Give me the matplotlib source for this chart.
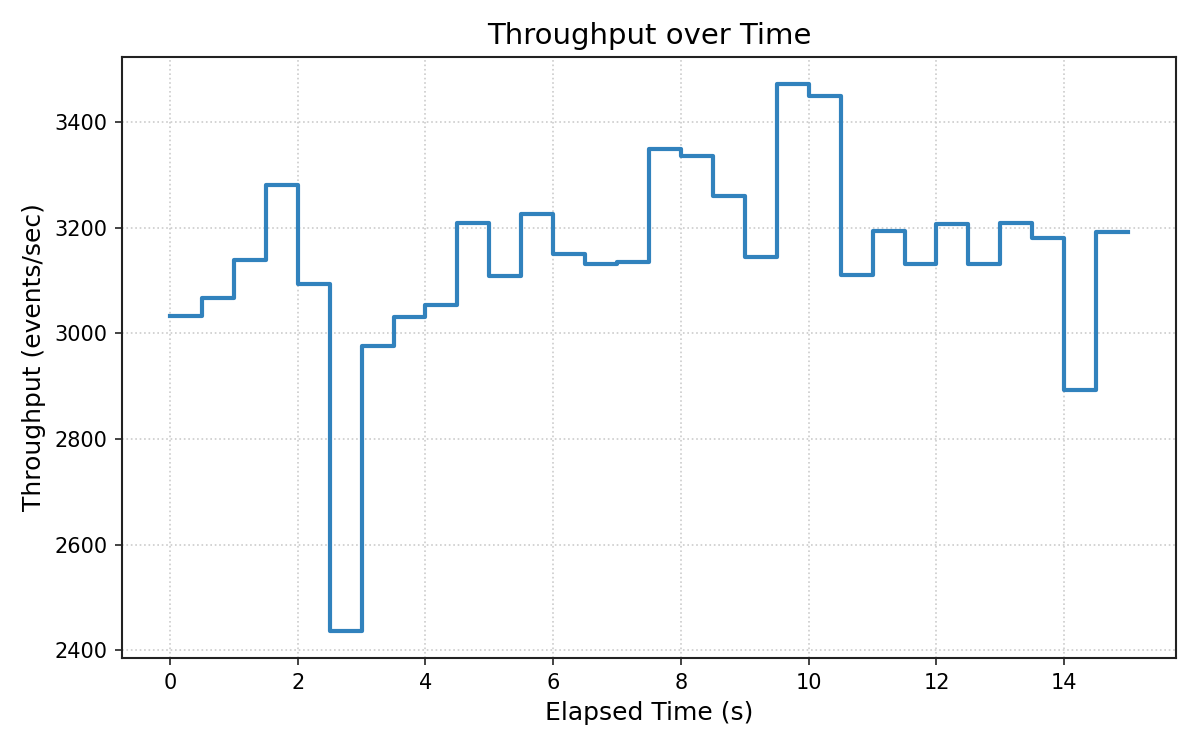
import matplotlib
matplotlib.use("Agg")
import matplotlib.pyplot as plt
import numpy as np

elapsed = [0.0, 0.5, 1.0, 1.5, 2.0, 2.5, 3.0, 3.5, 4.0, 4.5, 5.0, 5.5, 6.0, 6.5, 7.0,
           7.5, 8.0, 8.5, 9.0, 9.5, 10.0, 10.5, 11.0, 11.5, 12.0, 12.5, 13.0, 13.5,
           14.0, 14.5, 15.0]
throughput = [3034, 3068, 3140, 3282, 3094, 2437, 2977, 3032, 3053, 3210, 3108, 3227,
              3151, 3131, 3136, 3350, 3337, 3261, 3144, 3472, 3450, 3110, 3195, 3132,
              3208, 3131, 3210, 3180, 2892, 3193, 3193]

fig, ax = plt.subplots(figsize=(8, 5), dpi=150)
fig.subplots_adjust(left=0.1017, right=0.98, top=0.924, bottom=0.1227)
ax.step(elapsed, throughput, where="post", color="#3182bd", linewidth=2)
ax.grid(True, linestyle=":", color="#cccccc", linewidth=0.8)
ax.set_axisbelow(True)
for s in ax.spines.values():
    s.set_color("#222222")
    s.set_linewidth(1.0)
ax.tick_params(colors="#222222", labelcolor="black", labelsize=10)
ax.set_title("Throughput over Time", fontsize=14)
ax.set_xlabel("Elapsed Time (s)", fontsize=12)
ax.set_ylabel("Throughput (events/sec)", fontsize=12)
fig.savefig("out.png", dpi=150)
